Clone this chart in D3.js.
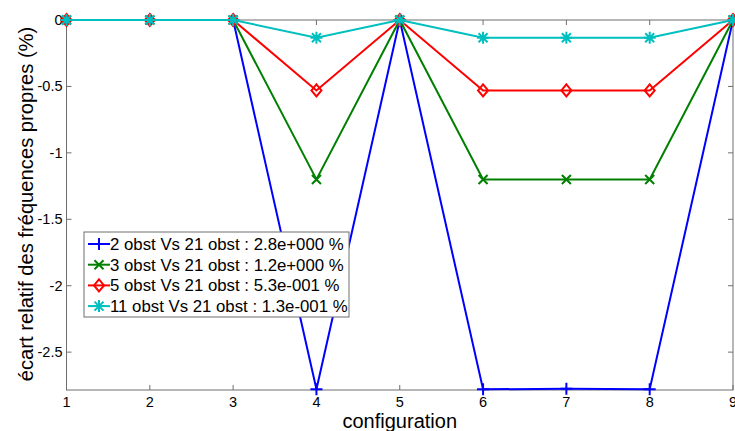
<!DOCTYPE html>
<html><head><meta charset="utf-8">
<script src="https://cdn.jsdelivr.net/npm/d3@7"></script>
<style>body{margin:0;background:#fff;} svg{display:block;font-family:"Liberation Sans",Arial,sans-serif;}</style>
</head><body><svg id="c" width="735" height="431"></svg>
<script>
const configurations = [1,2,3,4,5,6,7,8,9];
const blue2 = [0,0,0,-2.78,0,-2.78,-2.775,-2.78,0];
const green3 = [0,0,0,-1.2,0,-1.2,-1.2,-1.2,0];
const red5 = [0,0,0,-0.53,0,-0.53,-0.53,-0.53,0];
const cyan11 = [0,0,0,-0.133,0,-0.133,-0.133,-0.133,0];
const seriesNames = ["2 obst Vs 21 obst : 2.8e+000 %","3 obst Vs 21 obst : 1.2e+000 %","5 obst Vs 21 obst : 5.3e-001 %","11 obst Vs 21 obst : 1.3e-001 %"];
const yTicks = [0,-0.5,-1,-1.5,-2,-2.5];
const xTicks = [1,2,3,4,5,6,7,8,9];

const series = [
  {vals: blue2, color:"#0000ff", marker:"plus", name: seriesNames[0]},
  {vals: green3, color:"#008000", marker:"x", name: seriesNames[1]},
  {vals: red5, color:"#ff0000", marker:"diamond", name: seriesNames[2]},
  {vals: cyan11, color:"#00bfbf", marker:"star", name: seriesNames[3]}
];

const svg = d3.select("#c");
const L=66.5, R=733, T=20, B=390;
const x = d3.scaleLinear().domain([1,9]).range([L,R]);
const y = d3.scaleLinear().domain([-2.785,0]).range([B,T]);

const axisColor="#6e6e6e";
svg.append("rect").attr("x",L).attr("y",T).attr("width",R-L).attr("height",B-T).attr("fill","none").attr("stroke",axisColor).attr("stroke-width",1);

const tk=5;
xTicks.forEach(v=>{
  svg.append("line").attr("x1",x(v)).attr("x2",x(v)).attr("y1",B).attr("y2",B-tk).attr("stroke",axisColor);
  svg.append("line").attr("x1",x(v)).attr("x2",x(v)).attr("y1",T).attr("y2",T+tk).attr("stroke",axisColor);
  svg.append("text").attr("x",x(v)).attr("y",B+17).attr("text-anchor","middle").attr("font-size",14.5).attr("fill","#000").text(v);
});
yTicks.forEach(v=>{
  svg.append("line").attr("x1",L).attr("x2",L+tk).attr("y1",y(v)).attr("y2",y(v)).attr("stroke",axisColor);
  svg.append("line").attr("x1",R).attr("x2",R-tk).attr("y1",y(v)).attr("y2",y(v)).attr("stroke",axisColor);
  svg.append("text").attr("x",L-4).attr("y",y(v)+5).attr("text-anchor","end").attr("font-size",14.5).attr("fill","#000").text(v);
});

svg.append("text").attr("x",(L+R)/2).attr("y",428).attr("text-anchor","middle").attr("font-size",20).text("configuration");
svg.append("text").attr("transform",`translate(33,204) rotate(-90)`).attr("text-anchor","middle").attr("font-size",20.2).text("écart relatif des fréquences propres (%)");

function drawMarker(g, type, cx, cy, color){
  const s=6;
  if(type==="plus"){
    g.append("path").attr("d",`M${cx-s},${cy}H${cx+s}M${cx},${cy-s}V${cy+s}`).attr("stroke",color).attr("stroke-width",2).attr("fill","none");
  } else if(type==="x"){
    const d=4.5;
    g.append("path").attr("d",`M${cx-d},${cy-d}L${cx+d},${cy+d}M${cx-d},${cy+d}L${cx+d},${cy-d}`).attr("stroke",color).attr("stroke-width",2).attr("fill","none");
  } else if(type==="diamond"){
    g.append("path").attr("d",`M${cx},${cy-s}L${cx+5},${cy}L${cx},${cy+s}L${cx-5},${cy}Z`).attr("stroke",color).attr("stroke-width",2).attr("fill","none");
  } else if(type==="star"){
    const d=4.5;
    g.append("path").attr("d",`M${cx-s},${cy}H${cx+s}M${cx},${cy-s}V${cy+s}M${cx-d},${cy-d}L${cx+d},${cy+d}M${cx-d},${cy+d}L${cx+d},${cy-d}`).attr("stroke",color).attr("stroke-width",2).attr("fill","none");
  }
}

const line = d3.line().x((d,i)=>x(configurations[i])).y(d=>y(d));
series.forEach(s=>{
  const g=svg.append("g");
  g.append("path").datum(s.vals).attr("d",line).attr("fill","none").attr("stroke",s.color).attr("stroke-width",2);
  s.vals.forEach((v,i)=>drawMarker(g,s.marker,x(configurations[i]),y(v),s.color));
});

const lg=svg.append("g");
lg.append("rect").attr("x",84).attr("y",232).attr("width",265).attr("height",85).attr("fill","#fff").attr("stroke",axisColor);
series.forEach((s,i)=>{
  const yy=244+i*20.7;
  lg.append("line").attr("x1",88).attr("x2",110).attr("y1",yy).attr("y2",yy).attr("stroke",s.color).attr("stroke-width",2);
  drawMarker(lg,s.marker,99,yy,s.color);
  lg.append("text").attr("x",110).attr("y",yy+6).attr("font-size",16.8).text(s.name);
});
</script></body></html>
